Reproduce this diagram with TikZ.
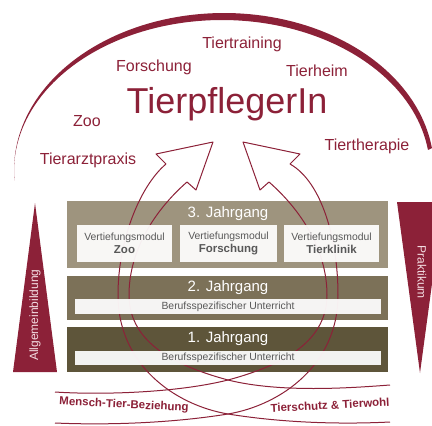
\documentclass[tikz,border=0pt]{standalone}
\usepackage{fontspec}
\setmainfont{Liberation Sans}

\definecolor{tpred}{RGB}{140,33,56}
\definecolor{lightpink}{RGB}{243,220,225}
\definecolor{jgthree}{RGB}{158,148,126}
\definecolor{jgtwo}{RGB}{124,113,88}
\definecolor{jgone}{RGB}{94,85,58}
\definecolor{modgray}{RGB}{88,88,88}

\tikzset{
  field/.style={anchor=base, text=tpred, font=\fontsize{16}{16}\selectfont},
  yearbox/.style={inner sep=0pt, draw=none},
  yeartitle/.style={text=white, font=\fontsize{15}{15}\selectfont},
  whitebox/.style={fill=white, fill opacity=0.93, text opacity=1, inner sep=0pt, align=center,
    text=modgray, font=\fontsize{10.4}{13}\selectfont},
  loopline/.style={draw=tpred, line width=1pt, line join=round},
  bandtext/.style={text=tpred, font=\bfseries\fontsize{11.5}{11.5}\selectfont},
  sidetext/.style={text=lightpink, font=\fontsize{12}{12}\selectfont}
}

\begin{document}
\begin{tikzpicture}[x=1pt,y=-1pt]
	\useasboundingbox (0,0) rectangle (432,426);
	\clip (0,0) rectangle (432,426);

	% crescent over the top
	\fill[tpred] plot[domain=8:183.65, samples=90] ({224+210*cos(\x)},{170-157*sin(\x)})
		-- plot[domain=183.65:8, samples=90] ({222+208*cos(\x)},{171-151*sin(\x)}) -- cycle;

	% side wedges
	\fill[tpred] (35,203) -- (57,372) -- (13,372) -- cycle;
	\fill[tpred] (397,202) -- (443,202) -- (420,373) -- cycle;
	\node[sidetext, rotate=90] (allg) at (35,315) {Allgemeinbildung};
	\node[sidetext, rotate=-90] (prakt) at (422,272) {Praktikum};

	% the three years
	\node[yearbox, fill=jgthree, minimum width=321, minimum height=67] (j3) at (227.5,234.5) {};
	\node[yearbox, fill=jgtwo, minimum width=321, minimum height=44] (j2) at (227.5,298) {};
	\node[yearbox, fill=jgone, minimum width=321, minimum height=45] (j1) at (227.5,349.5) {};

	% left loop
	\draw[loopline] (166,164) .. controls (140,186) and (118,240) .. (118,295)
		.. controls (118,365) and (175,405) .. (228,414)
		.. controls (290,424) and (350,424) .. (390,422);
	\draw[loopline] (187,182) .. controls (155,210) and (129,250) .. (129,295)
		.. controls (129,345) and (180,367) .. (228,380)
		.. controls (280,393) and (350,388) .. (390,385);
	\draw[loopline] (166,164) -- (156,154) -- (213,142) -- (196,190) -- (187,182);

	% right loop
	\draw[loopline] (290,164) .. controls (322,182) and (338,240) .. (338,295)
		.. controls (338,365) and (281,405) .. (228,414)
		.. controls (166,424) and (100,425) .. (55,423);
	\draw[loopline] (269,182) .. controls (301,210) and (327,250) .. (327,295)
		.. controls (327,345) and (276,367) .. (228,380)
		.. controls (176,393) and (100,395) .. (55,392);
	\draw[loopline] (290,164) -- (300,154) -- (243,142) -- (260,190) -- (269,182);

	% modules and lessons
	\node[whitebox, minimum width=95, minimum height=37] (mzoo) at (124.5,243.5)
		{Vertiefungsmodul\\{\bfseries\fontsize{11.5}{13}\selectfont Zoo}};
	\node[whitebox, minimum width=97, minimum height=37] (mfor) at (228.5,243.5)
		{Vertiefungsmodul\\{\bfseries\fontsize{11.5}{13}\selectfont Forschung}};
	\node[whitebox, minimum width=95, minimum height=37] (mtk) at (331.5,243.5)
		{Vertiefungsmodul\\{\bfseries\fontsize{11.5}{13}\selectfont Tierklinik}};
	\node[whitebox, minimum width=306, minimum height=15] (b2) at (228,306.5) {Berufsspezifischer Unterricht};
	\node[whitebox, minimum width=306, minimum height=14] (b1) at (228,358) {Berufsspezifischer Unterricht};

	\node[yeartitle] (t3) at (228,214) {3. Jahrgang};
	\node[yeartitle] (t2) at (228,288) {2. Jahrgang};
	\node[yeartitle] (t1) at (228,339) {1. Jahrgang};

	% fields of work
	\node[anchor=base, text=tpred, font=\fontsize{36}{36}\selectfont] (title) at (227,113) {TierpflegerIn};
	\node[field] (training) at (242,48) {Tiertraining};
	\node[field] (forschung) at (154,71) {Forschung};
	\node[field] (heim) at (317,76) {Tierheim};
	\node[field] (zoo) at (87,126) {Zoo};
	\node[field] (praxis) at (88,164) {Tierarztpraxis};
	\node[field] (therapie) at (367,150) {Tiertherapie};

	\node[bandtext, rotate=-3] (mtb) at (124,405) {Mensch-Tier-Beziehung};
	\node[bandtext, rotate=3] (tst) at (330,405) {Tierschutz \& Tierwohl};
\end{tikzpicture}
\end{document}
